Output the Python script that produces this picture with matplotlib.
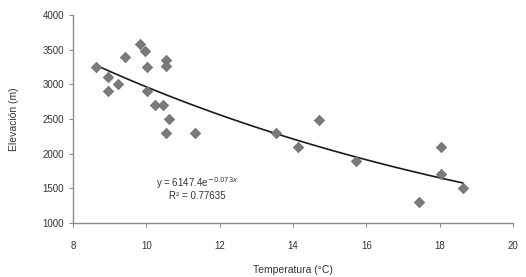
import numpy as np
import matplotlib
matplotlib.use("Agg")
import matplotlib.pyplot as plt

plt.rcParams['font.family'] = ['Liberation Sans', 'DejaVu Sans']

# Temperatura (°C) vs Elevación (m)
temperatura = [8.63, 8.95, 8.95, 9.23, 9.42, 9.83, 9.95, 10.02, 10.02,
               10.24, 10.45, 10.53, 10.53, 10.62, 10.53, 11.33,
               13.54, 14.14, 14.7, 15.72, 17.44, 18.03, 18.03, 18.63]
elevacion = [3250, 3100, 2900, 3000, 3400, 3580, 3480, 3250, 2900,
             2700, 2700, 3350, 3270, 2500, 2300, 2300,
             2300, 2100, 2480, 1900, 1300, 2100, 1700, 1500]

# coeficientes del ajuste exponencial mostrado
a_fit = 6147.4
b_fit = -0.073
r2 = 0.77635

x = np.array(temperatura)
y = np.array(elevacion)

fig = plt.figure(figsize=(5.26, 2.77), dpi=100)
ax = fig.add_axes([0.139, 0.195, 0.836, 0.751])

ax.scatter(x, y, marker='D', s=28, color='#7a7a7a', edgecolors='#6a6a6a',
           linewidths=0.5, zorder=3)

xs = np.linspace(x.min(), x.max(), 100)
ax.plot(xs, a_fit * np.exp(b_fit * xs), color='#1a1a1a', lw=1.2, zorder=2)

ax.text(11.4, 1577, 'y = 6147.4e$^{-0.073x}$', fontsize=7, ha='center',
        va='center', color='#333333')
ax.text(11.4, 1390, 'R² = ' + str(r2), fontsize=7, ha='center',
        va='center', color='#333333')

ax.set_xlim(8, 20)
ax.set_ylim(1000, 4000)
ax.set_xticks(range(8, 21, 2))
ax.set_yticks(range(1000, 4001, 500))

for s in ['top', 'right']:
    ax.spines[s].set_visible(False)
for s in ['left', 'bottom']:
    ax.spines[s].set_color('#8c8c8c')
    ax.spines[s].set_linewidth(1.0)

ax.tick_params(axis='both', labelsize=7, colors='#8c8c8c', labelcolor='#333333',
               length=3, width=0.8, direction='out')
ax.tick_params(axis='x', pad=10)

ax.set_xlabel('Temperatura (°C)', fontsize=7.5, color='#333333', labelpad=10)
ax.set_ylabel('Elevación (m)', fontsize=7.5, color='#333333', labelpad=17)

plt.savefig('out.png', dpi=100)
